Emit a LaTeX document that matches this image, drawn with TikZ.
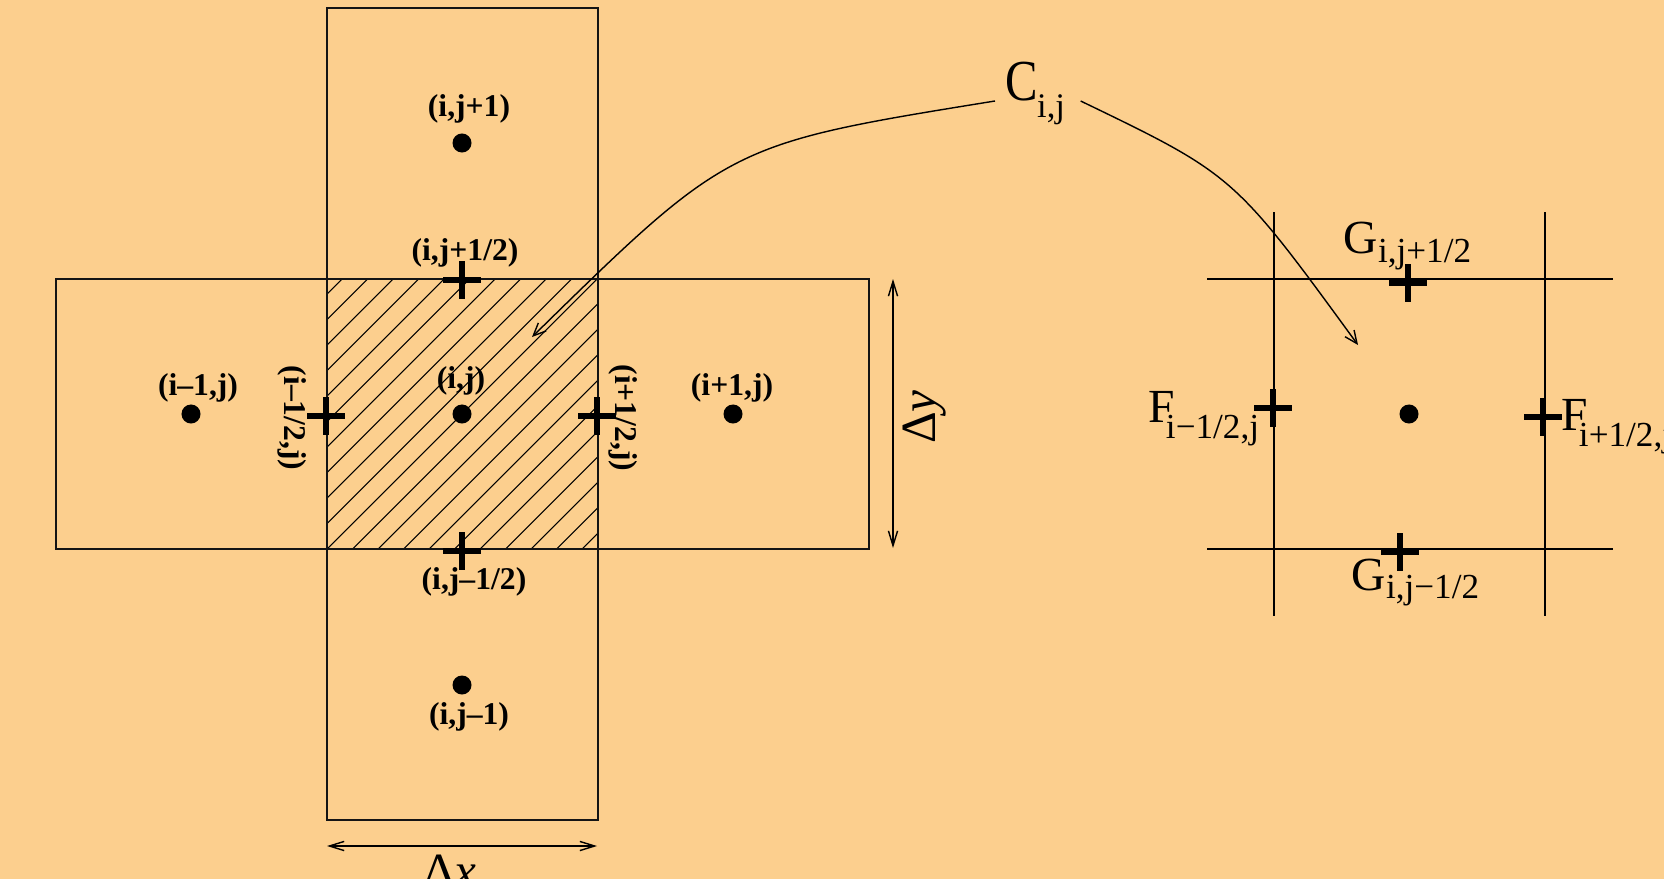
\documentclass[tikz,border=0pt]{standalone}
\usepackage{fontspec}
\setmainfont{Liberation Serif}
\usepackage{xcolor}
\usepackage{tikz}
\usetikzlibrary{arrows.meta, shapes.misc}
\definecolor{Paper}{RGB}{252, 207, 142}
\definecolor{Ink}{RGB}{20, 20, 20}
\newcommand{\withsub}[3]{#1\raisebox{-#3}{\fontsize{10}{11}\selectfont #2}}

\begin{document}
\begin{tikzpicture}[
    x=0.01cm, y=-0.01cm,
    cell/.style={draw=Ink, line width=0.45pt},
    gridline/.style={draw=black, line width=0.4pt},
    hatchline/.style={draw=black, line width=0.3pt},
    dot/.style={circle, fill=black, inner sep=0pt, minimum size=1.9mm},
    plusmk/.style={draw=black, cross out, rotate=45, line width=1.6pt, inner sep=0pt, minimum size=2.1mm},
    idx/.style={font=\fontsize{9}{10}\selectfont\bfseries, inner sep=0pt},
    flux/.style={font=\fontsize{13.5}{15}\selectfont, inner sep=0pt, anchor=base west},
    dim/.style={{Straight Barb[length=4.2pt,width=2.6pt]}-{Straight Barb[length=4.2pt,width=2.6pt]}, line width=0.4pt},
    link/.style={-{Straight Barb[length=3.6pt,width=3.2pt]}, line width=0.4pt}
]
    % Background
    \useasboundingbox (0,0) rectangle (1664,879);
    \fill[Paper] (0,0) rectangle (1664,879);

    % Hatched control volume
    \begin{scope}
        \clip (327,279) rectangle (598,549);
        \foreach \k in {-10,...,10} {
            \pgfmathsetmacro\kk{876+25.5*\k}
            \draw[hatchline] ({\kk-560},560) -- ({\kk-270},270);
        }
    \end{scope}

    % Stencil cells
    \draw[cell] (327,8) rectangle (598,820);
    \draw[cell] (56,279) rectangle (869,549);

    % Cell centres
    \node[dot] (cc) at (462,414) {};
    \node[dot] (cw) at (191,414) {};
    \node[dot] (ce) at (733,414) {};
    \node[dot] (cn) at (462,143) {};
    \node[dot] (cs) at (462,685) {};
    \node[idx] (lcc) at (461,381) {(i,j)};
    \node[idx] (lcw) at (198,388) {(i--1,j)};
    \node[idx] (lce) at (732,388) {(i+1,j)};
    \node[idx] (lcn) at (469,109) {(i,j+1)};
    \node[idx] (lcs) at (469,717) {(i,j--1)};

    % Cell faces
    \node[plusmk] (fn) at (462,280) {};
    \node[plusmk] (fs) at (462,551) {};
    \node[plusmk] (fw) at (326,416) {};
    \node[plusmk] (fe) at (597,416) {};
    \node[idx] (lfn) at (465,253) {(i,j+1/2)};
    \node[idx] (lfs) at (474,582) {(i,j--1/2)};
    \node[idx, rotate=-90] (lfw) at (292,418) {(i--1/2,j)};
    \node[idx, rotate=-90] (lfe) at (623,418) {(i+1/2,j)};

    % Cell sizes
    \coordinate (dxl) at (327,846);
    \coordinate (dxr) at (597,846);
    \coordinate (dyt) at (893,279);
    \coordinate (dyb) at (893,548);
    \draw[dim] (dxl) -- (dxr);
    \draw[dim] (dyt) -- (dyb);
    \node[font=\fontsize{14}{15}\selectfont, inner sep=0pt, anchor=base] (ldx) at (450,887) {Δ\textit{x}};
    \node[font=\fontsize{14}{15}\selectfont, inner sep=0pt, rotate=90] (ldy) at (925,417) {Δ\textit{y}};

    % Single cell with fluxes
    \draw[gridline] (1274,212) -- (1274,616);
    \draw[gridline] (1545,212) -- (1545,616);
    \draw[gridline] (1207,279) -- (1613,279);
    \draw[gridline] (1207,549) -- (1613,549);
    \node[dot] (rc) at (1409,414) {};
    \node[plusmk] (rn) at (1408,283) {};
    \node[plusmk] (rs) at (1400,552) {};
    \node[plusmk] (rw) at (1273,408) {};
    \node[plusmk] (re) at (1543,417) {};
    \node[flux] (gn) at (1343,254) {\withsub{G}{i,j+1/2}{2.4pt}};
    \node[flux] (gs) at (1351,590) {\withsub{G}{i,j−1/2}{2.4pt}};
    \node[flux] (fl) at (1148,422) {\withsub{F\kern-2.6pt}{i−1/2,j}{4.7pt}};
    \node[flux] (fr) at (1561,430) {\withsub{F\kern-2.6pt}{i+1/2,j}{4.7pt}};

    % Cell average
    \node[inner sep=0pt, anchor=base west, font=\fontsize{16.5}{18}\selectfont] (cij) at (1005,101)
        {\scalebox{0.84}[1]{C}\kern-0.3pt\raisebox{-4.6pt}{\fontsize{9.8}{10}\selectfont i,j}};
    \coordinate (tipl) at (532,337);
    \coordinate (tipr) at (1358,345);
    \draw[link] ([xshift=-0.1cm]cij.base west) .. controls (729,144) .. (tipl);
    \draw[link] ([xshift=0.15cm]cij.base east) .. controls (1234,175) .. (tipr);
\end{tikzpicture}
\end{document}
